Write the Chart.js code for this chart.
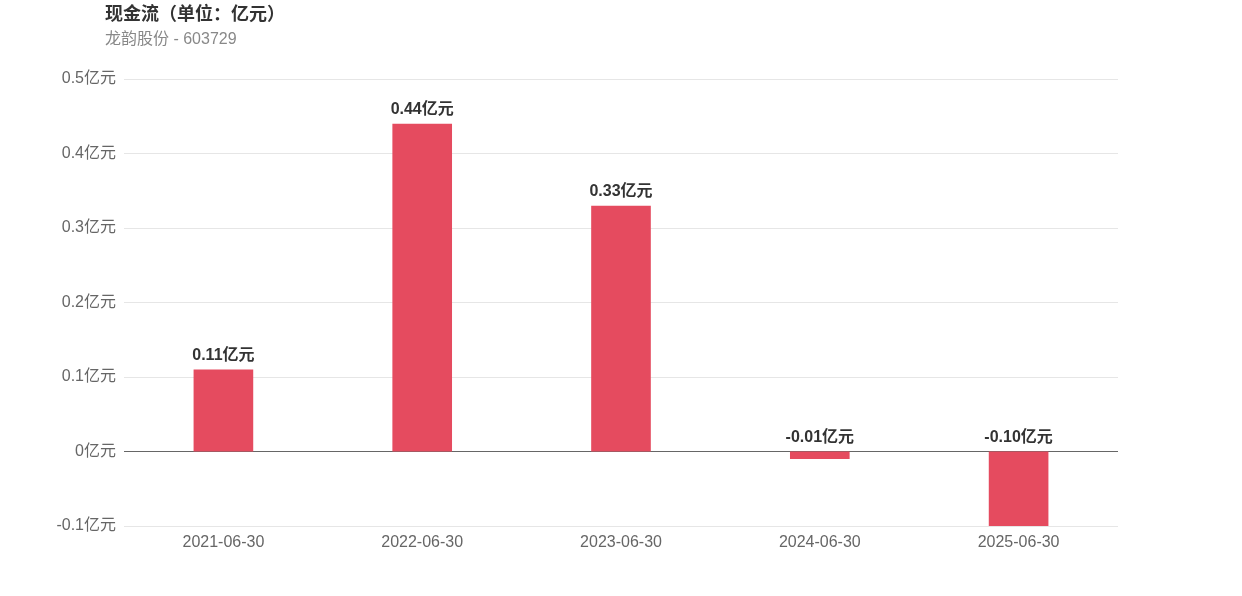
<!DOCTYPE html>
<html>
<head>
<meta charset="utf-8">
<script src="https://cdn.jsdelivr.net/npm/chart.js@4"></script>
<style>
html,body{margin:0;padding:0;background:#fff;}
#wrap{position:relative;width:1242px;height:596px;}
canvas{position:absolute;left:0;top:0;}
.t{position:absolute;left:105px;font-family:"Liberation Sans","Noto Sans CJK SC",sans-serif;white-space:nowrap;line-height:1.2;}
#title{top:4px;font-size:18px;font-weight:bold;color:#333;}
#sub{top:29px;font-size:16px;color:#888;}
</style>
</head>
<body>
<div id="wrap">
<canvas id="c" width="1242" height="596"></canvas>
<div class="t" id="title">现金流（单位：亿元）</div>
<div class="t" id="sub">龙韵股份 - 603729</div>
</div>
<script>
const categories = ["2021-06-30","2022-06-30","2023-06-30","2024-06-30","2025-06-30"];
const cashFlow = [0.11, 0.44, 0.33, -0.01, -0.10];
const unit = "亿元";

const FONT = '"Liberation Sans","Noto Sans CJK SC",sans-serif';

const labelPlugin = {
  id: 'barLabels',
  afterDatasetsDraw(chart) {
    const ctx = chart.ctx;
    const meta = chart.getDatasetMeta(0);
    ctx.save();
    ctx.font = 'bold 16px ' + FONT;
    ctx.fillStyle = '#333';
    ctx.textAlign = 'center';
    ctx.textBaseline = 'middle';
    meta.data.forEach((bar, i) => {
      const top = Math.min(bar.y, bar.base);
      ctx.fillText(cashFlow[i].toFixed(2) + unit, bar.x, top - 14);
    });
    ctx.restore();
  }
};

new Chart(document.getElementById('c'), {
  type: 'bar',
  data: {
    labels: categories,
    datasets: [{
      data: cashFlow,
      backgroundColor: '#E54B5F',
      barPercentage: 0.3,
      categoryPercentage: 1.0
    }]
  },
  options: {
    responsive: false,
    animation: false,
    layout: { padding: { top: 79, right: 124, bottom: 0, left: 0 } },
    plugins: { legend: { display: false }, tooltip: { enabled: false } },
    scales: {
      x: {
        grid: { display: false, drawTicks: false },
        border: { display: false },
        ticks: { color: '#666', font: { size: 16, family: FONT }, padding: 7 },
        afterFit(s) { s.height = 70; }
      },
      y: {
        min: -0.1, max: 0.5,
        grid: {
          drawTicks: false,
          color: (c) => (c.tick && Math.abs(c.tick.value) < 1e-9) ? '#666' : '#e6e6e6',
          lineWidth: 1
        },
        border: { display: false },
        ticks: {
          stepSize: 0.1,
          color: '#666',
          font: { size: 16, family: FONT },
          padding: 8,
          callback: (v) => {
            const r = Math.round(v * 10) / 10;
            return (r === 0 ? '0' : r.toFixed(1)) + unit;
          }
        },
        afterFit(s) { s.width = 124; }
      }
    }
  },
  plugins: [labelPlugin]
});
</script>
</body>
</html>
